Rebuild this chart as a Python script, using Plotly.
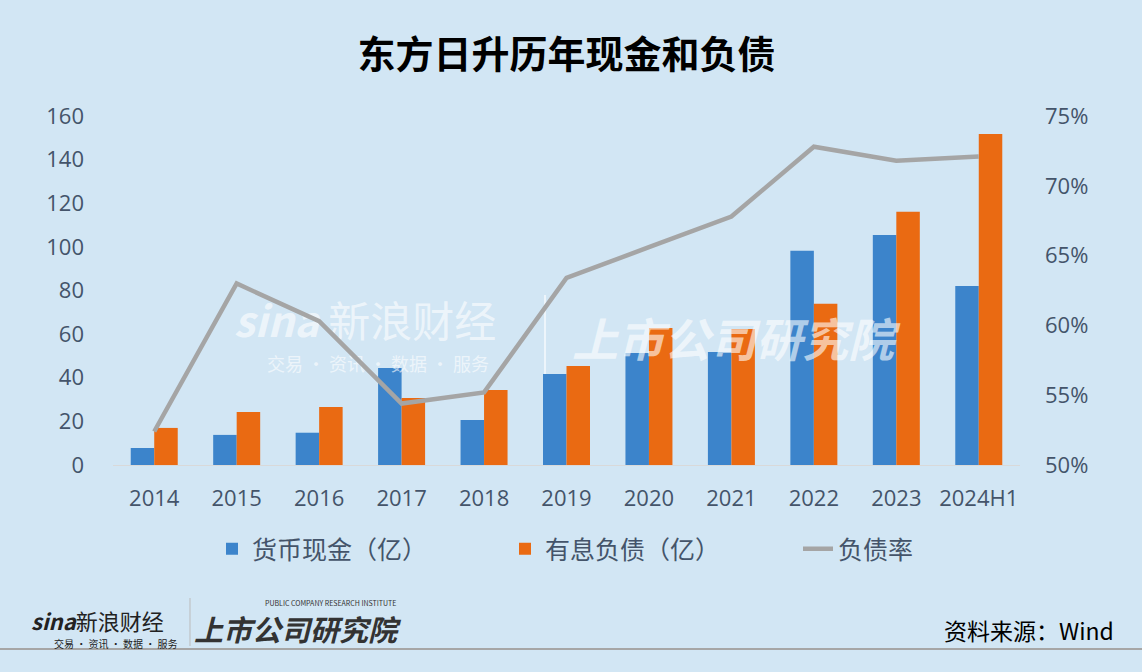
import plotly.graph_objects as go

categories = ["2014", "2015", "2016", "2017", "2018", "2019", "2020", "2021", "2022", "2023", "2024H1"]
cash = [7.8, 13.8, 14.8, 44.5, 20.6, 41.7, 51.4, 51.8, 98.2, 105.5, 82.1]
debt = [17.0, 24.3, 26.6, 30.7, 34.4, 45.4, 62.8, 62.4, 73.9, 116.1, 151.8]
ratio = [52.4, 63.0, 60.3, 54.4, 55.2, 63.4, 65.6, 67.8, 72.8, 71.8, 72.1]

y_ticks = [0, 20, 40, 60, 80, 100, 120, 140, 160]
y2_ticks = [50, 55, 60, 65, 70, 75]
y2_labels = [f"{v}%" for v in y2_ticks]

BG = "#D2E6F4"
TICK = "#44546A"
FONT = "Open Sans, Noto Sans CJK SC, sans-serif"
CJK = "Noto Sans CJK SC, sans-serif"

L, R, T, B = 113, 1020, 116, 465  # plot area in pixels
idx = list(range(len(categories)))
YMAX = 160


def paper_pt(px, py):
    return (px - L) / (R - L), (B - py) / (B - T)


def data_pt(px, py):
    fx, fy = paper_pt(px, py)
    return -0.5 + fx * len(categories), fy * YMAX


wm = "rgba(255,255,255,0.6)"
fig = go.Figure()

# watermark drawn first so it sits beneath the bars
for txt, px, py, size in [
    ("<b><i>sina</i></b> 新浪财经", 365, 326, 42),
    ("交易 · 资讯 · 数据 · 服务", 378, 366, 18),
    ("<b><i>上市公司研究院</i></b>", 733, 345, 46),
]:
    dx, dy = data_pt(px, py)
    fig.add_trace(go.Scatter(x=[dx], y=[dy], mode="text", text=[txt], showlegend=False,
                             hoverinfo="skip", textposition="middle center",
                             textfont=dict(family=CJK, size=size, color=wm)))

fig.add_trace(go.Bar(name="货币现金（亿）", x=idx, y=cash,
                     marker=dict(color="#3C84CB", line=dict(width=0))))
fig.add_trace(go.Bar(name="有息负债（亿）", x=idx, y=debt,
                     marker=dict(color="#EA6A12", line=dict(width=0))))
fig.add_trace(go.Scatter(name="负债率", x=idx, y=ratio, yaxis="y2", mode="lines",
                         line=dict(color="#A5A5A5", width=4.5)))

_, leg_y = paper_pt(0, 549)

fig.update_layout(
    width=1142, height=672,
    paper_bgcolor=BG, plot_bgcolor=BG,
    margin=dict(l=L, r=1142 - R, t=T, b=672 - B),
    barmode="group", bargap=0.43, bargroupgap=0,
    showlegend=True,
    legend=dict(orientation="h", x=(212 - L) / (R - L), xanchor="left", y=leg_y, yanchor="middle",
                font=dict(family=CJK, size=25, color=TICK),
                entrywidth=248, entrywidthmode="pixels", bgcolor="rgba(0,0,0,0)",
                traceorder="normal"),
    title=dict(text="<b>东方日升历年现金和负债</b>", x=0.5, xref="paper", xanchor="center",
               y=1 - 55 / 672, yref="container", yanchor="middle",
               font=dict(family=CJK, size=38, color="#000000")),
    xaxis=dict(range=[-0.5, len(categories) - 0.5], tickvals=idx, ticktext=categories,
               showgrid=False, zeroline=False, showline=True, linecolor="#D9D9D9", linewidth=1,
               ticks="", tickfont=dict(family=FONT, size=22, color=TICK), ticklabelstandoff=14),
    yaxis=dict(range=[0, YMAX], tickvals=y_ticks, showgrid=False, zeroline=False, showline=False,
               ticks="", tickfont=dict(family=FONT, size=22, color=TICK), ticklabelstandoff=28),
    yaxis2=dict(range=[50, 75], tickvals=y2_ticks, ticktext=y2_labels, overlaying="y", side="right",
                showgrid=False, zeroline=False, showline=False, ticks="",
                tickfont=dict(family=FONT, size=22, color=TICK), ticklabelstandoff=24),
)

ann = []
for txt, px, py, size, color in [
    ("<b><i>sina</i></b>新浪财经", 97, 620, 22, "#222222"),
    ("交易 · 资讯 · 数据 · 服务", 115, 643, 10, "#222222"),
    ("<b><i>上市公司研究院</i></b>", 298, 628, 29, "#333333"),
    ("PUBLIC COMPANY RESEARCH INSTITUTE", 330, 603, 7, "#333333"),
]:
    x, y = paper_pt(px, py)
    ann.append(dict(text=txt, x=x, y=y, xref="paper", yref="paper", showarrow=False,
                    xanchor="center", yanchor="middle",
                    font=dict(family=CJK, size=size, color=color)))

x, y = paper_pt(1116, 630)
ann.append(dict(text="资料来源：Wind", x=x, y=y, xref="paper", yref="paper", xanchor="right",
                yanchor="middle", showarrow=False, font=dict(family=CJK, size=23, color="#000000")))
fig.update_layout(annotations=ann)

x0, y0 = paper_pt(0, 649)
x1, _ = paper_pt(1142, 649)
xs, ys0 = paper_pt(190, 598)
_, ys1 = paper_pt(190, 646)
xw, yw0 = paper_pt(545, 295)
_, yw1 = paper_pt(545, 375)
fig.update_layout(shapes=[
    dict(type="line", xref="paper", yref="paper", x0=x0, x1=x1, y0=y0, y1=y0,
         line=dict(color="#A6A6A6", width=2)),
    dict(type="line", xref="paper", yref="paper", x0=xs, x1=xs, y0=ys0, y1=ys1,
         line=dict(color="#BBBBBB", width=1)),
    dict(type="line", xref="paper", yref="paper", x0=xw, x1=xw, y0=yw0, y1=yw1,
         line=dict(color=wm, width=2), layer="below"),
])

fig.write_html("out.html", config={"displayModeBar": False},
               post_script="document.body.style.margin='0';document.body.style.overflow='hidden';")
